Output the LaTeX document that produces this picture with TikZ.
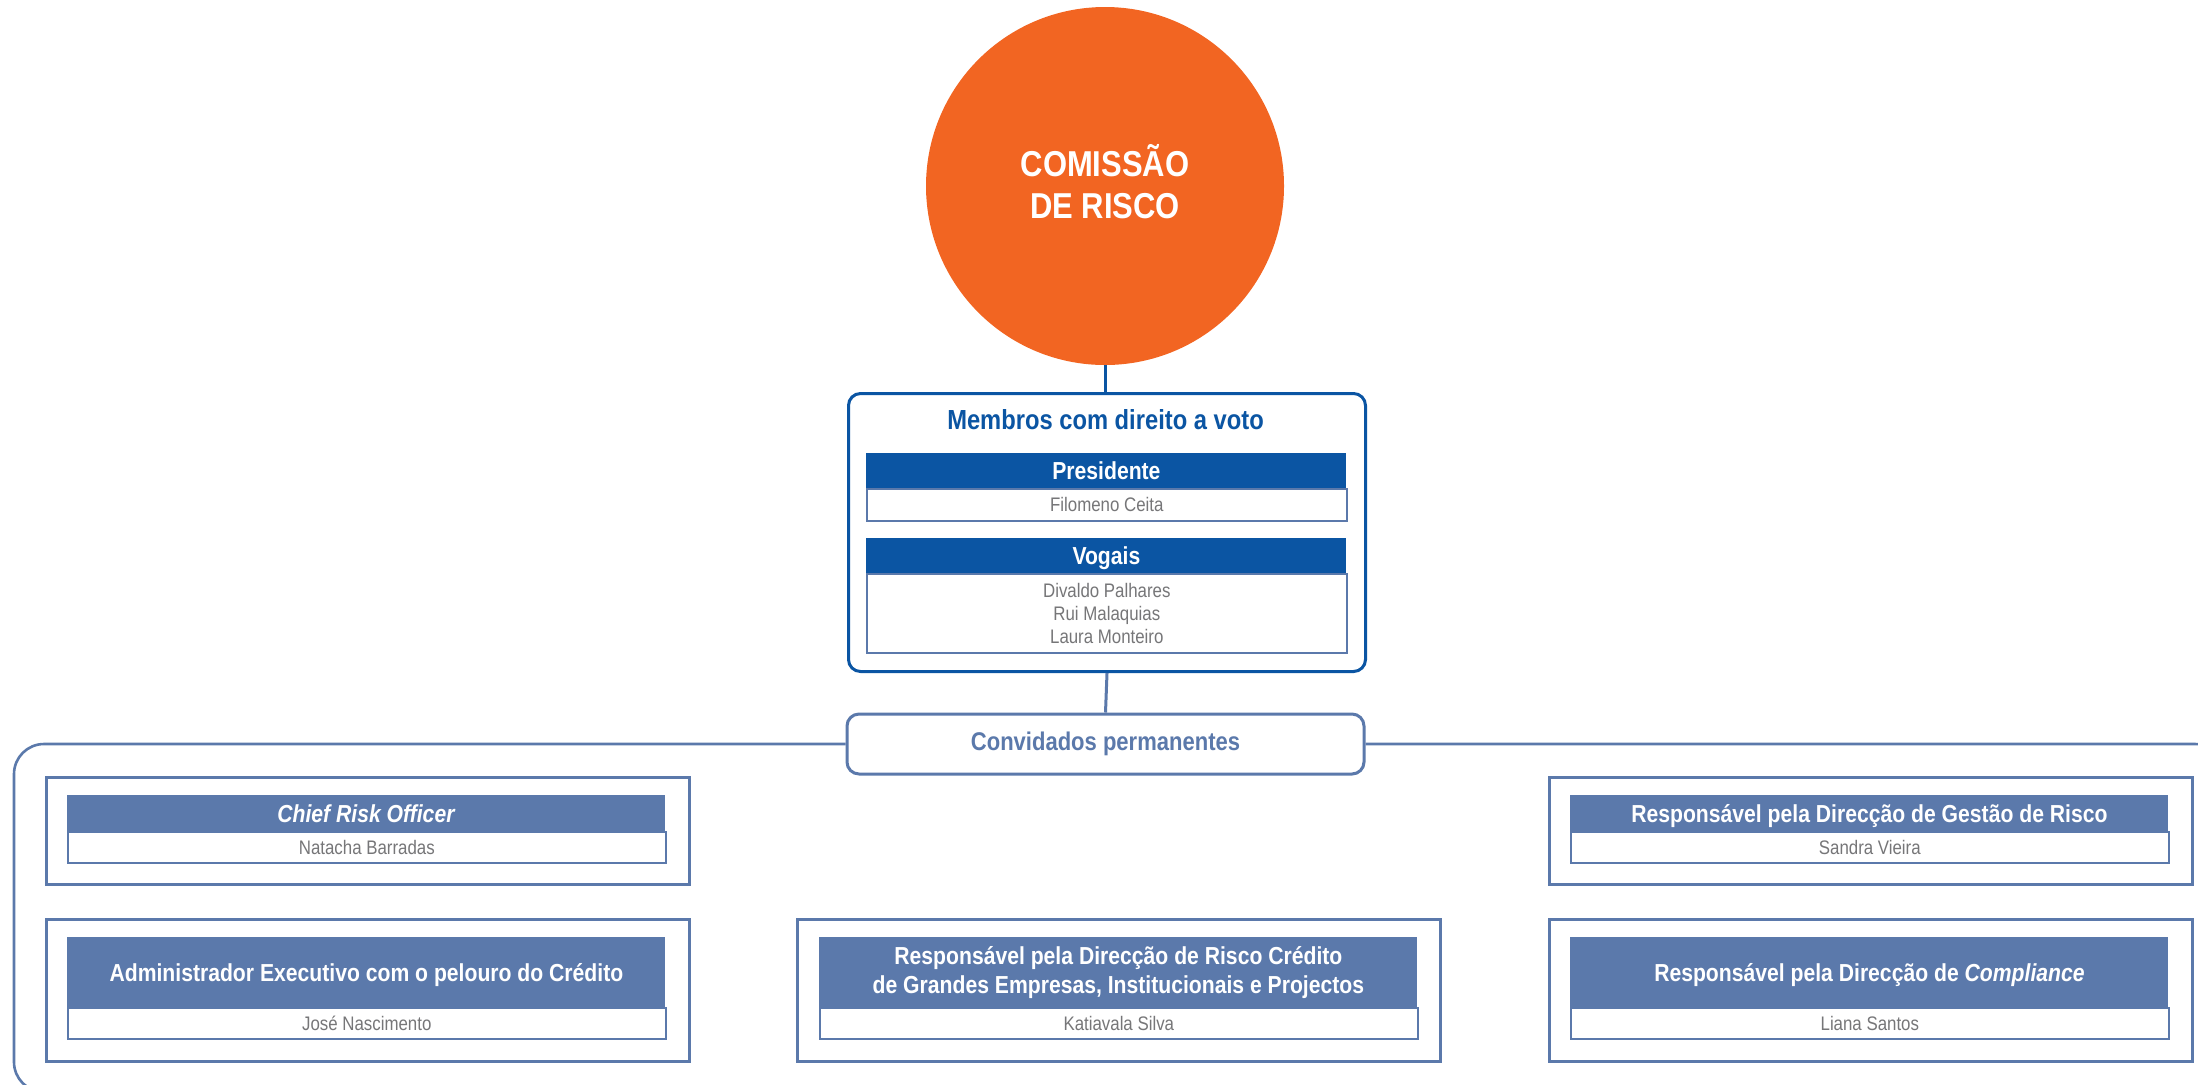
\documentclass[tikz,border=0pt]{standalone}
\usepackage{fontspec}
\setmainfont[FakeStretch=0.86]{Liberation Sans}
\definecolor{orng}{RGB}{242,101,34}
\definecolor{dblue}{RGB}{11,85,163}
\definecolor{lblue}{RGB}{91,121,171}
\definecolor{gtext}{RGB}{118,118,120}
\newcommand{\hdrfont}{\fontsize{12.3pt}{14.5pt}\selectfont\bfseries}
\newcommand{\titfont}{\fontsize{13.8pt}{16pt}\selectfont\bfseries}
\newcommand{\convfont}{\fontsize{12.8pt}{15pt}\selectfont\bfseries}
\newcommand{\namefont}{\fontsize{9.8pt}{11.4pt}\selectfont}
\newcommand{\circfont}{\fontsize{18pt}{21pt}\selectfont\bfseries}
\begin{document}
\begin{tikzpicture}[x=0.5pt,y=-0.5pt,
 circ/.style={circle, fill=orng, draw=none, minimum size=179pt, inner sep=0pt},
 vbox/.style={draw=dblue, line width=1.5pt, rounded corners=6pt, fill=white, anchor=north west, inner sep=0pt},
 ghbox/.style={draw=lblue, line width=1.4pt, fill=white, anchor=north west, inner sep=0pt, minimum width=321.5pt},
 dhdr/.style={fill=dblue, text=white, font=\hdrfont, anchor=north west, inner sep=0pt, minimum width=240pt, minimum height=17.5pt, text height=8.8pt, text depth=0pt},
 lhdr/.style={fill=lblue, text=white, font=\hdrfont, anchor=north west, inner sep=0pt, minimum width=299pt, align=center},
 onel/.style={text height=8.8pt, text depth=0pt},
 dname/.style={draw=lblue, line width=0.8pt, fill=white, text=gtext, font=\namefont, anchor=north west, inner sep=0pt, minimum width=240pt, align=center},
 lname/.style={draw=lblue, line width=0.8pt, fill=white, text=gtext, font=\namefont, anchor=north west, inner sep=0pt, minimum width=299pt, minimum height=15.5pt, align=center},
 dline/.style={draw=dblue, line width=1.5pt},
 lline/.style={draw=lblue, line width=1.5pt},
 frame/.style={draw=lblue, line width=1.3pt, rounded corners=15pt}]
\useasboundingbox (0,0) rectangle (2198,1084);

% Commission
\node[circ] (com) at (1105,186) {};
\node[text=white, font=\circfont, align=center, inner sep=0pt] (comt) at (1105,182) {COMISSÃO\\DE RISCO};

% Voting members
\node[vbox, minimum width=258.5pt, minimum height=139pt] (memb) at (847,392) {};
\node[text=dblue, font=\titfont, anchor=base, inner sep=0pt] (mtitle) at (1105.5,429) {Membros com direito a voto};
\node[dname, minimum height=16pt] (presN) at (866,488) {Filomeno Ceita};
\node[dhdr] (pres) at (866,453) {Presidente};
\node[dname, minimum height=39.5pt] (vogN) at (866,573) {Divaldo Palhares\\Rui Malaquias\\Laura Monteiro};
\node[dhdr] (vog) at (866,538) {Vogais};

% Permanent guests
\node[vbox, draw=lblue, minimum width=258.5pt, minimum height=30pt, anchor=center, text=lblue, font=\convfont] (conv) at (1105.5,744) {Convidados permanentes};

\draw[dline] (com.south) -- (com.south |- memb.north);
\draw[lline] (memb.south) -- (conv.north);

\begin{scope}
\clip (0,0) rectangle (2198,1084);
\draw[frame] (conv.west) -| (14,1092) -| (2225,744) -- (conv.east);
\end{scope}

% Chief Risk Officer
\node[ghbox, minimum height=53.5pt] (croO) at (45,776) {};
\node[lname] (croN) at (67,831) {Natacha Barradas};
\node[lhdr, onel, minimum height=18pt] (cro) at (67,795) {\textit{Chief Risk Officer}};

% Administrador
\node[ghbox, minimum height=71pt] (admO) at (45,918) {};
\node[lname] (admN) at (67,1007) {José Nascimento};
\node[lhdr, onel, minimum height=35pt] (adm) at (67,937) {Administrador Executivo com o pelouro do Crédito};

% Risco Credito
\node[ghbox, minimum height=71pt] (rcO) at (796,918) {};
\node[lname] (rcN) at (819,1007) {Katiavala Silva};
\node[lhdr, minimum height=35pt] (rc) at (819,937) {Responsável pela Direcção de Risco Crédito\\de Grandes Empresas, Institucionais e Projectos};

% Gestao de Risco
\node[ghbox, minimum height=53.5pt] (grO) at (1548,776) {};
\node[lname] (grN) at (1570,831) {Sandra Vieira};
\node[lhdr, onel, minimum height=18pt] (gr) at (1570,795) {Responsável pela Direcção de Gestão de Risco};

% Compliance
\node[ghbox, minimum height=71pt] (cmpO) at (1548,918) {};
\node[lname] (cmpN) at (1570,1007) {Liana Santos};
\node[lhdr, onel, minimum height=35pt] (cmp) at (1570,937) {Responsável pela Direcção de \textit{Compliance}};
\end{tikzpicture}
\end{document}
